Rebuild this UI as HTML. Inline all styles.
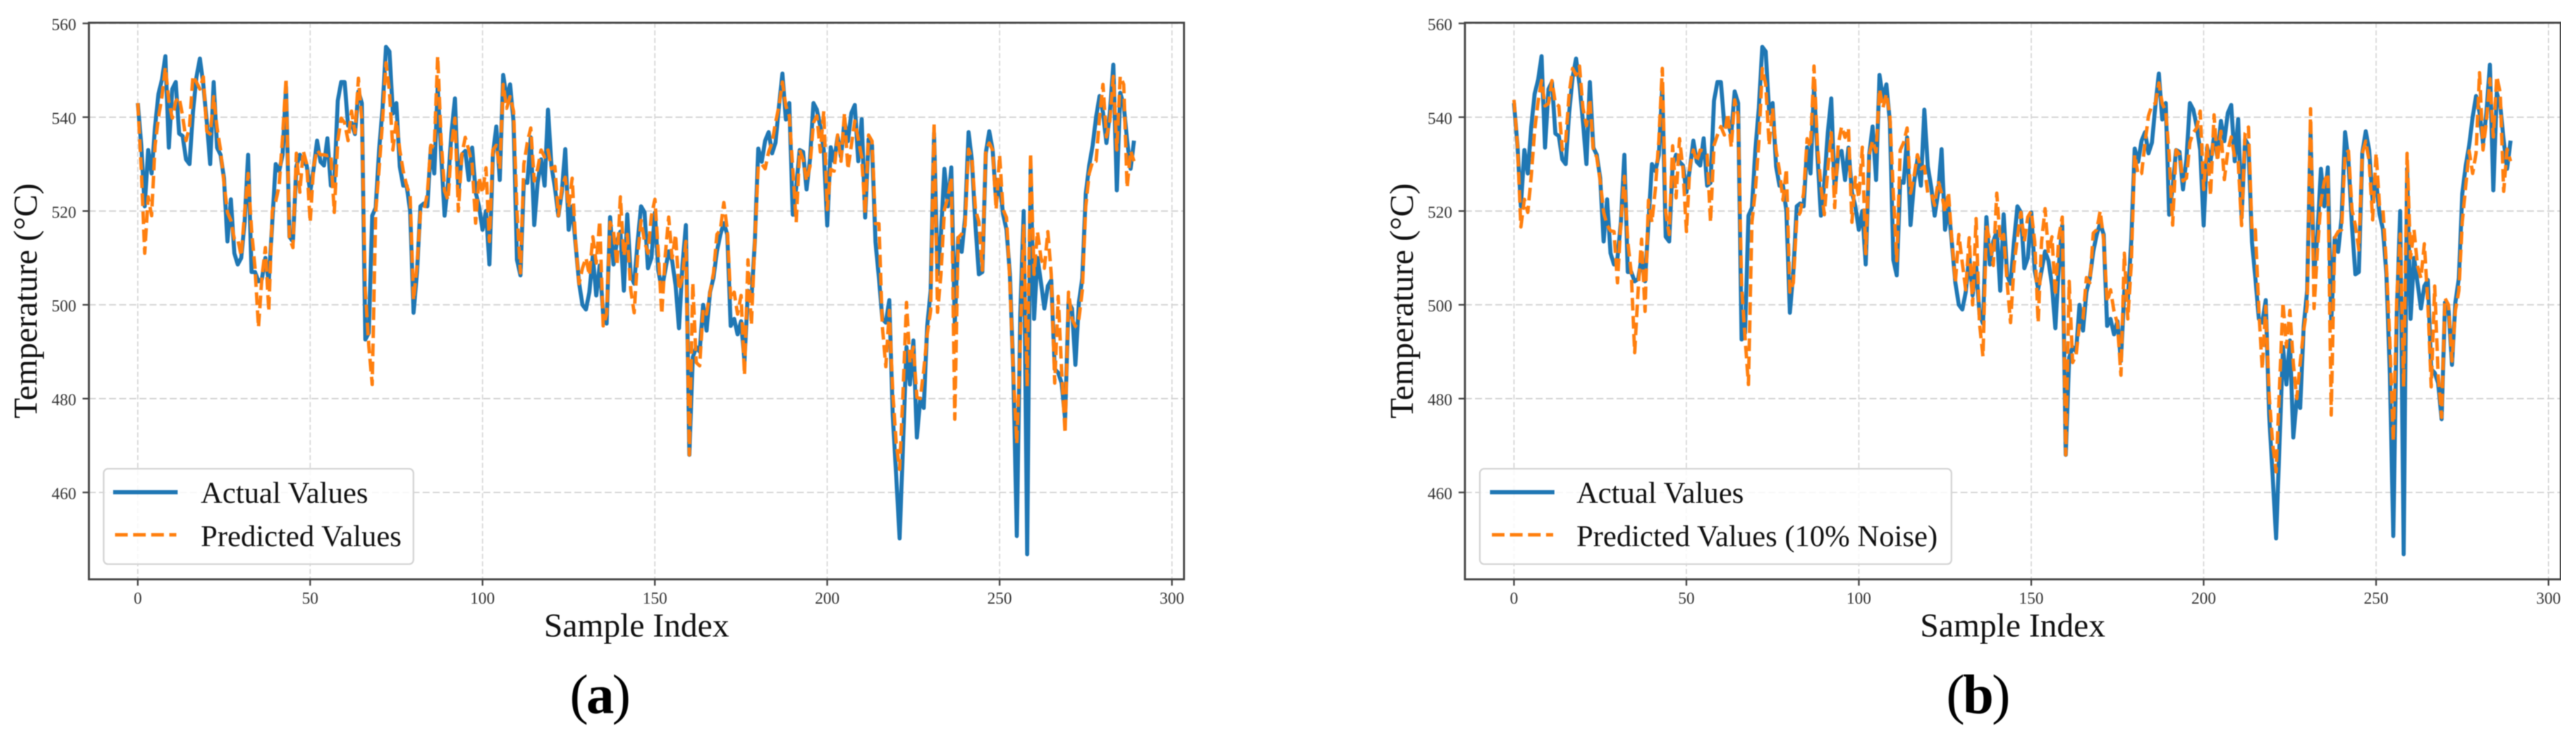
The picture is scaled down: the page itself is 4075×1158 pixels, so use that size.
<!DOCTYPE html>
<html lang="en">
<head>
<meta charset="utf-8">
<title>Actual vs Predicted Temperature</title>
<style>
  html, body { margin: 0; padding: 0; background: #fff; }
  svg { display: block; }
  text { font-family: "Liberation Serif", "Times New Roman", serif; }
  .tick-label { font-size: 26px; fill: #333; }
  .axis-title { font-size: 53px; fill: #111; }
  .legend-label { font-size: 47.6px; fill: #111; }
  .panel-label { font-size: 88px; fill: #000; letter-spacing: -3px; }
  .spine { fill: none; stroke: #444; stroke-width: 3.2; }
  .legend-box { fill: #fff; fill-opacity: .82; stroke: #d4d4d4; stroke-width: 2.6; }
</style>
</head>
<body>
<svg id="figure" xmlns="http://www.w3.org/2000/svg" width="4075" height="1158" viewBox="0 0 4075 1158">
  <defs>
    <filter id="soft" x="0" y="0" width="100%" height="100%" color-interpolation-filters="sRGB"><feGaussianBlur stdDeviation="0.9"/></filter>
  </defs>
  <rect width="4075" height="1158" fill="#fff"/>
  <g filter="url(#soft)">
    <g id="panel-a">
      <g id="marks-a"></g>
      <rect class="spine" x="140.6" y="36" width="1732.4" height="880.5"/>
      <g>
        <rect class="legend-box" x="164" y="741.5" width="490" height="151" rx="7"/>
        <line x1="179" y1="778.6" x2="281" y2="778.6" stroke="#1f77b4" stroke-width="6.8"/>
        <text class="legend-label" x="317.5" y="795.5">Actual Values</text>
        <line x1="182" y1="846" x2="279" y2="846" stroke="#ff7f0e" stroke-width="5.4" stroke-dasharray="20 8.6"/>
        <text class="legend-label" x="317.5" y="864">Predicted Values</text>
      </g>
      <text class="axis-title" x="1007" y="1007" text-anchor="middle">Sample Index</text>
      <text class="axis-title" transform="translate(58 476) rotate(-90)" text-anchor="middle">Temperature (°C)</text>
      <text class="panel-label" x="948" y="1128" text-anchor="middle">(<tspan font-weight="bold">a</tspan>)</text>
    </g>
    <g id="panel-b">
      <g id="marks-b"></g>
      <rect class="spine" x="2317.4" y="36" width="1733.6" height="880.5"/>
      <g>
        <rect class="legend-box" x="2341" y="741.5" width="746" height="151" rx="7"/>
        <line x1="2357" y1="778.6" x2="2459" y2="778.6" stroke="#1f77b4" stroke-width="6.8"/>
        <text class="legend-label" x="2493.7" y="795.5">Actual Values</text>
        <line x1="2360" y1="846" x2="2457" y2="846" stroke="#ff7f0e" stroke-width="5.4" stroke-dasharray="20 8.6"/>
        <text class="legend-label" x="2493.7" y="864">Predicted Values (10% Noise)</text>
      </g>
      <text class="axis-title" x="3184" y="1007" text-anchor="middle">Sample Index</text>
      <text class="axis-title" transform="translate(2235 476) rotate(-90)" text-anchor="middle">Temperature (°C)</text>
      <text class="panel-label" x="3128" y="1128" text-anchor="middle">(<tspan font-weight="bold">b</tspan>)</text>
    </g>
  </g>
</svg>
<script>
const xTicks = [0, 50, 100, 150, 200, 250, 300];
const yTicks = [460, 480, 500, 520, 540, 560];

const actualValues = [
  543,534,521,533,528,538,545,548,553,533.5,
  546,547.5,536.5,536,531,530,541,548.5,552.5,547,
  539,530,547.5,533.5,532,527,513.5,522.5,511,508.6,
  510,517.6,532,507,507,505,505.5,510,505,517.6,
  530,528.5,532,546.5,514.5,513.5,529.5,532,530.5,529.7,
  524,529,535,530.5,529.7,535.5,525.4,526,543.5,547.5,
  547.5,538.2,538.8,536.4,545.5,543,492.6,494,519,520.7,
  533,542,555,554,540.8,543,529.5,525.4,525.4,520,
  498.3,507,521,521.6,521,533.6,528,546.5,532,519,
  526,536.7,544,524,532,532.8,526.6,533.5,524,521,
  516,520,508.6,532,538,526.6,549,544,547,539,
  509.6,506.3,526.4,526,535.7,517,526,531,525.4,541.6,
  529.5,525,519,524,533.2,516,521,513,504.7,500,
  499,502.7,510.4,502,508.4,498,496,518.7,508.6,513.5,
  515.6,503,519.3,506.3,504.5,513.5,521,519.7,507.8,510,
  519.7,507.3,503.4,507.3,511.4,509.4,504.2,495,508.4,517,
  468,488.8,491,490,500,494.5,502.7,505.8,511.4,515,
  517.4,515,495.5,497,493.7,496.5,488,503,501,513.5,
  533.3,530.5,535,536.8,532.3,534.6,542.4,549.3,539.5,543,
  519.2,525,533,532.6,524.6,531,543,541.6,538,533,
  516.9,533.6,530.6,535.8,531.5,539.2,534.9,540.9,542.6,530.6,
  539.6,518.6,535.3,534,513.4,505.7,497,496.2,501,476.5,
  463.6,450.2,470.4,491,483,492.4,471.7,480,478,495.4,
  503,536.6,506.5,515,529,521,529.3,496,514.3,511.3,
  518.6,536.8,530.6,516.9,506.5,507,532.3,537,533,522,
  526.3,519.4,516,506.5,485,450.7,498,520,446.8,529,
  497,510,504.8,499.2,504,505.3,486.3,485.5,483.3,475.6,
  500.5,499.2,487.2,500.5,505.7,523.7,529.7,534,540,544.5,
  541,534.5,541,551.2,524.4,545.2,542.6,535,529,535
];

const predictedValuesA = [
  543,529,511,523,519,534,540,544.4,550.6,543.4,
  539.8,543.4,544.2,540.3,535,538,548.8,547.5,546,548.6,
  537,536.4,544.4,537.7,533,526,519.7,518,514,514,
  510.4,519.7,528,516,507.8,495.2,505.8,512.2,498.6,520,
  522,525.4,535.7,548.3,514.3,512.2,532.3,524,532.8,530,
  517.6,529.5,533,532,532,531.8,532,519.7,535,539.8,
  538.8,535,541.3,536.7,548.3,539.3,503,491.3,483,519.7,
  529,539.3,551.6,545.5,533,539.3,533,528.5,525.4,523.3,
  501,508.4,519.7,520,523.8,534,533.6,553,535,524.3,
  522.3,534,539.8,520,532,535.7,533,530,517.4,527.2,
  523.8,529.2,513.5,533,534,529,547,541.9,544.4,541.3,
  520,506.8,530,534.6,537.7,526.4,529,533,531.5,533,
  529,529.5,519,524.8,527.2,520.7,527,513.5,504.5,507.8,
  510,506.3,514.5,508.9,517.9,495.5,498,517.6,515.6,508.4,
  523,510.4,515,503.2,498.3,510.4,518,513.5,511,519,
  522.5,511,498,510.4,518.7,510,515,503.2,505.8,513.5,
  468,504.7,487.7,487,499,498,502.7,506.8,515,516,
  521.8,516,501,502.7,498,502,485,509.6,495.7,513.5,
  529.7,530,529,532.6,534.6,538.8,542.4,547.5,542.4,540.3,
  529,517.6,533,531,526.4,529.5,538.8,540.3,532.6,541.3,
  520.3,528.9,528.5,536.2,530.6,540.9,528.9,534,539.2,535.3,
  531.5,519.4,536.2,534.9,517.3,517.3,495.4,486.8,498.8,481.6,
  470.4,464.9,481.6,500.5,487.6,491,480.3,480,486,493.6,
  498.8,538.8,498.4,506.5,520.3,522.9,527.2,475.6,514.3,515.1,
  516.9,533.2,531,520.3,517.7,507.4,532.8,534.5,533,520.3,
  531.9,520.3,518.6,504.8,485,470.4,491.9,516.9,482.5,532.3,
  506.5,515.6,510,507.8,515.6,506.5,483.3,501.8,486,472.6,
  502.7,497,495.4,497,503,521,528,530.6,530.6,540,
  547,535.8,539.2,548.7,533,548.7,547,525,532.8,530.6
];

const predictedValuesB = [
  543.7,534,516.6,522.5,519.7,527.4,537.2,543.4,547.8,542.4,
  542.9,547.8,542.9,542.4,533,535,545,550.4,549,550.9,
  541.9,538.2,543.9,533,531.5,526.4,519.7,517,515.8,515.6,
  504.7,517.6,527.4,513.5,506.8,489.8,503.2,514,498.6,522.3,
  517.6,524.8,535,550.4,519.7,515,533.9,522.8,535.4,529,
  515.6,529.5,533,530.5,533,532.8,532,517.6,534,536.2,
  538,536.2,540.8,533.6,543.7,540.3,504.2,493,483,517.6,
  524.3,534.6,550.4,547,534,541.9,533,528.5,522.3,529,
  502.7,504.7,518.4,519.7,523.8,535.4,533.6,550.9,534,525.4,
  519.2,529,536.7,520.7,534,538,535.7,537.7,517.6,527.2,
  522.8,533.6,510.9,532,535,532.6,546,542,545,540.3,
  523.8,509.4,533,534.6,537.7,523.8,527.4,532,529,529.5,
  523.8,523.8,521.2,526.4,523.8,519.7,524,513.5,504.7,515,
  508.9,503.2,514.3,500,518.4,496,489,517,513.5,508.4,
  523.8,513.5,515,504.7,496.2,508.4,514.5,519.7,513.5,518.7,
  520,513.5,496.2,513.5,520.5,511,514.5,502,514.5,518.7,
  468,505,487.7,489.3,496,497,505.8,504.7,515.3,516,
  520,513.9,500.6,503.2,498.6,496,485,511,497,508.4,
  532,527.7,528,534.6,540.3,542.6,542.9,547.3,542.9,541.3,
  532,517,533,532,526.4,527,534.6,536.7,537.7,541.3,
  524.6,534,523.3,540.5,530.6,537,526.7,532.8,535.8,531.5,
  530.6,516.9,536.6,537.9,515.6,516,498.8,486.3,499.7,480.8,
  470.4,464.4,482.5,500.5,491,498.8,487.6,480,487.6,494.5,
  499.7,541.8,499.2,511.7,522,526.3,528,476.5,514.3,515.6,
  516,532.3,532.8,520.3,516.9,511.7,532.3,534.9,530.6,518.1,
  532.3,521.2,520.3,508.3,491.9,470.9,501.4,515.1,482.5,532.3,
  510,516,508.3,505.7,513,500.5,482.5,504,485,476,
  501.4,500,488,498.8,503,517.7,525.4,532.8,528,532.3,
  549.5,533,539.2,548.2,535.8,548.7,545.2,524.2,533.2,530.6
];

const SVG_NS = 'http://www.w3.org/2000/svg';

// Axis scales: x is sample index, y is temperature in degrees C.
function makeXScale(zeroPx, pxPerSample) {
  return function (sample) { return zeroPx + sample * pxPerSample; };
}
function yScale(temp) {
  return 37 + (560 - temp) * 7.42;
}

function makeLine(parent, x1, y1, x2, y2, stroke, width, dash) {
  const el = document.createElementNS(SVG_NS, 'line');
  el.setAttribute('x1', x1);
  el.setAttribute('y1', y1);
  el.setAttribute('x2', x2);
  el.setAttribute('y2', y2);
  el.setAttribute('stroke', stroke);
  el.setAttribute('stroke-width', width);
  if (dash) el.setAttribute('stroke-dasharray', dash);
  parent.appendChild(el);
  return el;
}

function makeLabel(parent, x, y, anchor, content) {
  const el = document.createElementNS(SVG_NS, 'text');
  el.setAttribute('class', 'tick-label');
  el.setAttribute('x', x);
  el.setAttribute('y', y);
  el.setAttribute('text-anchor', anchor);
  el.textContent = content;
  parent.appendChild(el);
  return el;
}

function makeSeries(parent, values, xScale, stroke, width, dash) {
  const el = document.createElementNS(SVG_NS, 'polyline');
  const pts = values.map(function (v, i) {
    return xScale(i).toFixed(1) + ',' + yScale(v).toFixed(1);
  });
  el.setAttribute('points', pts.join(' '));
  el.setAttribute('fill', 'none');
  el.setAttribute('stroke', stroke);
  el.setAttribute('stroke-width', width);
  el.setAttribute('stroke-linejoin', 'round');
  if (dash) el.setAttribute('stroke-dasharray', dash);
  parent.appendChild(el);
  return el;
}

function drawPanel(groupId, axisLeft, axisRight, xScale, predicted) {
  const g = document.getElementById(groupId);
  const top = 36;
  const bottom = 916.5;

  xTicks.forEach(function (t) {
    const x = xScale(t);
    const grid = makeLine(g, x, top, x, bottom, '#d6d6d6', 1.9, '8 4');
    
    
    const tick = makeLine(g, x, bottom, x, bottom + 10, '#444', 2.6);
    
    
    const label = makeLabel(g, x, 955, 'middle', String(t));
    
    
  });

  yTicks.forEach(function (t) {
    const y = yScale(t);
    const grid = makeLine(g, axisLeft, y, axisRight, y, '#d2d2d2', 2.1, '11 5');
    
    
    const tick = makeLine(g, axisLeft - 10, y, axisLeft, y, '#444', 2.6);
    
    
    const label = makeLabel(g, axisLeft - 20, y + 10.5, 'end', String(t));
    
    
  });

  const actualLine = makeSeries(g, actualValues, xScale, '#1f77b4', 6.4);
  
  

  const predictedLine = makeSeries(g, predicted, xScale, '#ff7f0e', 5.4, '20 8.6');
  
  
}

drawPanel('marks-a', 140.6, 1873, makeXScale(218, 5.453), predictedValuesA);
drawPanel('marks-b', 2317.4, 4051, makeXScale(2395, 5.455), predictedValuesB);
</script>
</body>
</html>
